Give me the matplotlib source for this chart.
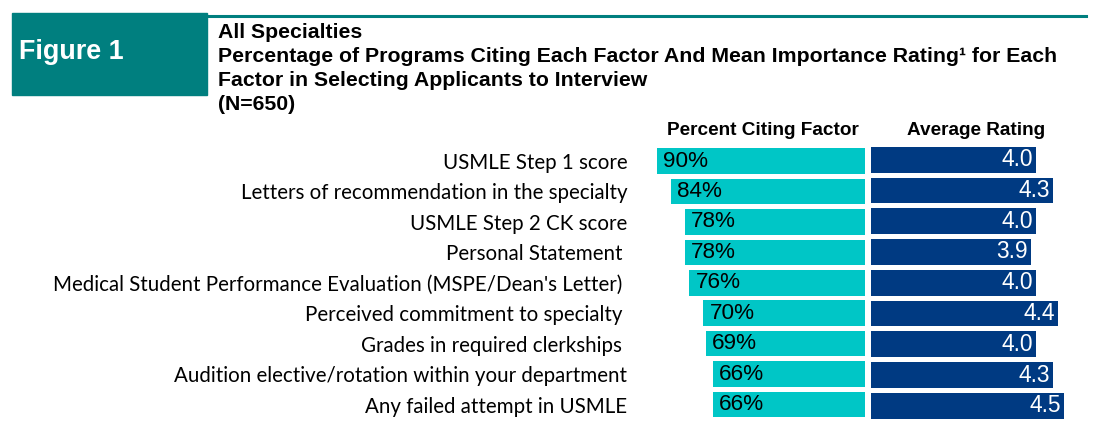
import matplotlib
matplotlib.use("Agg")
import matplotlib.pyplot as plt
from matplotlib.patches import Rectangle
from matplotlib.lines import Line2D

factors = [
    "USMLE Step 1 score",
    "Letters of recommendation in the specialty",
    "USMLE Step 2 CK score",
    "Personal Statement ",
    "Medical Student Performance Evaluation (MSPE/Dean's Letter) ",
    "Perceived commitment to specialty ",
    "Grades in required clerkships ",
    "Audition elective/rotation within your department",
    "Any failed attempt in USMLE",
]
percent_citing = [90, 84, 78, 78, 76, 70, 69, 66, 66]
avg_rating = [4.0, 4.3, 4.0, 3.9, 4.0, 4.4, 4.0, 4.3, 4.5]

title_lines = [
    "All Specialties",
    "Percentage of Programs Citing Each Factor And Mean Importance Rating\u00b9 for Each",
    "Factor in Selecting Applicants to Interview",
    "(N=650)",
]
col_headers = ["Percent Citing Factor", "Average Rating"]

CYAN = "#00C6C6"
NAVY = "#003A82"
TEAL = "#007F7F"

W, H = 1120, 421
fig = plt.figure(figsize=(W / 100, H / 100), dpi=100)

def fx(px):
    return px / W

def fy(py):
    return 1 - py / H

# header box and line
fig.patches.append(Rectangle((fx(12), fy(95)), fx(207) - fx(12), fy(13) - fy(95),
                             transform=fig.transFigure, color=TEAL, zorder=1))
fig.lines.append(Line2D([fx(207), fx(1086)], [fy(15.5), fy(15.5)], transform=fig.transFigure,
                        color=TEAL, lw=2.2))
fig.text(fx(19), fy(52), "Figure 1", color="white", fontsize=19.4, fontweight="bold",
         family="Liberation Sans", va="center", ha="left")
for i, line in enumerate(title_lines):
    fig.text(fx(218), fy(32 + 24 * i), line, fontsize=15.3, fontweight="bold",
             family="Liberation Sans", va="center", ha="left", color="black")

row0, step = 161.0, 30.44
n = len(factors)
top_px = row0 - step / 2
bot_px = row0 + step * (n - 0.5)

# left axis (percent)
l_left, l_right = 640, 865
px_per_pct = 2.31
ax1 = fig.add_axes([fx(l_left), fy(bot_px), fx(l_right) - fx(l_left), fy(top_px) - fy(bot_px)])
ax1.set_xlim((l_right - l_left) / px_per_pct, 0)
ax1.set_ylim(n - 0.5, -0.5)
ys = list(range(n))
ax1.barh(ys, percent_citing, height=0.84, color=CYAN)
for y, v in zip(ys, percent_citing):
    ax1.annotate(f"{v}%", (v, y), xytext=(4.5, 0), textcoords="offset points",
                 ha="left", va="center", fontsize=16.2, family="Liberation Sans", color="black")
ax1.set_yticks(ys)
ax1.set_yticklabels(factors, family="Lato", fontsize=14.8)
ax1.tick_params(axis="y", length=0, pad=9)
ax1.set_xticks([])
for s in ax1.spines.values():
    s.set_visible(False)

# right axis (rating)
r_left, r_right = 871, 1110
px_per_unit = 55.0
ax2 = fig.add_axes([fx(r_left), fy(bot_px + 1.5), fx(r_right) - fx(r_left), fy(top_px - 1.5) - fy(bot_px + 1.5)])
ax2.set_xlim(1, 1 + (r_right - r_left) / px_per_unit)
ax2.set_ylim(n - 0.5, -0.5)
ax2.barh(ys, [r - 1 for r in avg_rating], left=1, height=0.84, color=NAVY)
for y, v in zip(ys, avg_rating):
    ax2.annotate(f"{v:.1f}", (v, y), xytext=(-2, 0), textcoords="offset points",
                 ha="right", va="center", fontsize=16.4, family="Liberation Sans", color="white")
ax2.set_xticks([])
ax2.set_yticks([])
for s in ax2.spines.values():
    s.set_visible(False)

fig.text(fx(763), fy(131), col_headers[0], fontsize=13.7, fontweight="bold",
         family="Liberation Sans", ha="center", va="center")
fig.text(fx(976.5), fy(131), col_headers[1], fontsize=13.7, fontweight="bold",
         family="Liberation Sans", ha="center", va="center")

fig.savefig("out.png", dpi=100)
